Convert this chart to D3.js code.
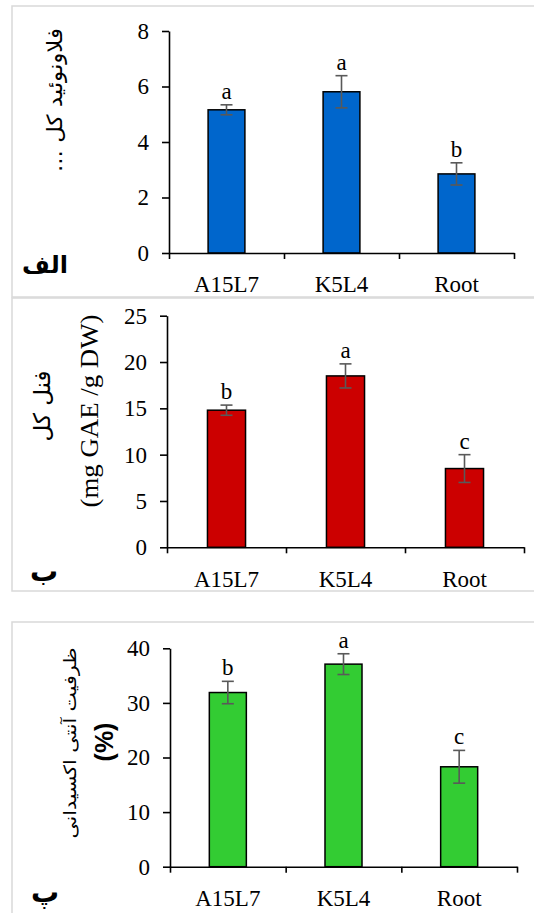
<!DOCTYPE html>
<html>
<head>
<meta charset="utf-8">
<script src="https://cdn.jsdelivr.net/npm/d3@7"></script>
<style>
  body { margin: 0; background: #fff; }
  svg { display: block; }
  .num text, text.num { font-family: 'Liberation Serif', 'Times New Roman', serif; font-size: 23px; }
</style>
</head>
<body>
<div id="chart"></div>
<script>
// data
var categories = ["A15L7", "K5L4", "Root"];

var flavMeans = [5.16, 5.81, 2.85];
var flavErrors = [0.18, 0.58, 0.40];
var flavLetters = ["a", "a", "b"];
var flavTicks = [0, 2, 4, 6, 8];

var phenolMeans = [14.8, 18.5, 8.5];
var phenolErrors = [0.55, 1.3, 1.5];
var phenolLetters = ["b", "a", "c"];
var phenolTicks = [0, 5, 10, 15, 20, 25];

var antiMeans = [31.9, 37.1, 18.3];
var antiErrors = [2.05, 1.9, 3.0];
var antiLetters = ["b", "a", "c"];
var antiTicks = [0, 10, 20, 30, 40];

var svgWidth = 534;
var svgHeight = 913;

var svg = d3.select("#chart")
    .append("svg")
    .attr("width", svgWidth)
    .attr("height", svgHeight);

var serif = "'Liberation Serif', 'Times New Roman', serif";
var arabic = "'DejaVu Sans', sans-serif";

function drawPanel(p) {
    // light gray frame around each panel
    svg.append("rect")
        .attr("x", 12)
        .attr("y", p.frameTop)
        .attr("width", 540)
        .attr("height", p.frameBottom - p.frameTop)
        .attr("fill", "none")
        .attr("stroke", "#d9d9d9")
        .attr("stroke-width", 1.5);

    var g = svg.append("g");

    var yScale = d3.scaleLinear()
        .domain([0, d3.max(p.ticks)])
        .range([p.bottom, p.top]);

    var xBand = d3.scaleBand()
        .domain(categories)
        .range([p.left, p.right])
        .paddingInner(0.68)
        .paddingOuter(0.34);

    var xEdges = d3.scaleLinear()
        .domain([0, categories.length])
        .range([p.left, p.right]);

    // bars
    g.selectAll("rect.bar")
        .data(p.means)
        .enter()
        .append("rect")
        .attr("class", "bar")
        .attr("x", (d, i) => xBand(categories[i]))
        .attr("y", d => yScale(d))
        .attr("width", xBand.bandwidth())
        .attr("height", d => yScale(0) - yScale(d))
        .attr("fill", p.color)
        .attr("stroke", "#000")
        .attr("stroke-width", 1.5);

    // error bars
    var cx = i => xBand(categories[i]) + xBand.bandwidth() / 2;
    var err = g.append("g")
        .attr("stroke", "#595959")
        .attr("stroke-width", 1.6);
    p.means.forEach(function(m, i) {
        var hi = yScale(m + p.errors[i]);
        var lo = yScale(m - p.errors[i]);
        err.append("line").attr("x1", cx(i)).attr("x2", cx(i)).attr("y1", hi).attr("y2", lo);
        err.append("line").attr("x1", cx(i) - 6).attr("x2", cx(i) + 6).attr("y1", hi).attr("y2", hi);
        err.append("line").attr("x1", cx(i) - 6).attr("x2", cx(i) + 6).attr("y1", lo).attr("y2", lo);
    });

    // significance letters
    g.selectAll("text.letter")
        .data(p.letters)
        .enter()
        .append("text")
        .attr("class", "letter num")
        .attr("x", (d, i) => cx(i))
        .attr("y", (d, i) => yScale(p.means[i] + p.errors[i]) - 6)
        .attr("text-anchor", "middle")
        .text(d => d);

    // y axis
    var leftAxis = d3.axisLeft(yScale)
        .tickValues(p.ticks)
        .tickSize(7)
        .tickSizeOuter(0)
        .tickPadding(13);
    g.append("g")
        .attr("class", "num")
        .attr("transform", `translate(${p.left}, 0)`)
        .call(leftAxis)
        .attr("font-family", null)
        .attr("font-size", null);

    // x axis with ticks between the categories
    var edgeAxis = d3.axisBottom(xEdges)
        .tickValues(d3.range(categories.length + 1))
        .tickFormat("")
        .tickSize(6)
        .tickSizeOuter(0);
    g.append("g")
        .attr("transform", `translate(0, ${p.bottom})`)
        .call(edgeAxis);

    var bottomAxis = d3.axisBottom(xBand).tickSize(0).tickPadding(23);
    var xAxis = g.append("g")
        .attr("class", "num")
        .attr("transform", `translate(0, ${p.bottom})`)
        .call(bottomAxis)
        .attr("font-family", null)
        .attr("font-size", null);
    xAxis.select(".domain").remove();

    g.selectAll(".tick text").attr("fill", "#000");
    g.selectAll(".domain, .tick line")
        .attr("stroke", "#000")
        .attr("stroke-width", 1.6);

    // rotated axis titles
    p.titles.forEach(function(t) {
        var txt = svg.append("text")
            .attr("transform", `translate(${t.x}, ${t.y}) rotate(-90)`)
            .attr("text-anchor", "middle")
            .attr("direction", t.rtl ? "rtl" : "ltr")
            .style("font-family", t.font)
            .style("font-size", t.size + "px")
            .style("font-weight", t.bold ? "bold" : "normal")
            .text(t.text);
        if (t.length) {
            txt.attr("textLength", t.length).attr("lengthAdjust", "spacingAndGlyphs");
        }
    });

    // panel letter
    svg.append("text")
        .attr("x", p.tagX)
        .attr("y", p.tagY)
        .attr("text-anchor", "middle")
        .attr("direction", "rtl")
        .style("font-family", arabic)
        .style("font-size", p.tagSize + "px")
        .style("font-weight", "bold")
        .text(p.tag);
}

drawPanel({
    frameTop: 6, frameBottom: 297,
    left: 169, right: 514, top: 31, bottom: 253,
    means: flavMeans, errors: flavErrors, letters: flavLetters, ticks: flavTicks,
    color: "#0066cc",
    titles: [
        { text: "فلاونوئید کل ...", x: 62, y: 100, size: 21, font: arabic, length: 144, rtl: true }
    ],
    tag: "الف", tagX: 45, tagY: 273, tagSize: 24
});

drawPanel({
    frameTop: 298, frameBottom: 591,
    left: 167, right: 524, top: 315.7, bottom: 547.3,
    means: phenolMeans, errors: phenolErrors, letters: phenolLetters, ticks: phenolTicks,
    color: "#cc0000",
    titles: [
        { text: "فنل کل", x: 50, y: 406, size: 23, font: arabic, length: 71, rtl: true },
        { text: "(mg GAE /g DW)", x: 98, y: 411, size: 25, font: serif, length: 193 }
    ],
    tag: "ب", tagX: 44, tagY: 581, tagSize: 28
});

drawPanel({
    frameTop: 622, frameBottom: 930,
    left: 170, right: 517, top: 648.3, bottom: 866.7,
    means: antiMeans, errors: antiErrors, letters: antiLetters, ticks: antiTicks,
    color: "#33cc33",
    titles: [
        { text: "ظرفیت آنتی اکسیدانی", x: 76, y: 743, size: 17, font: arabic, length: 191, rtl: true },
        { text: "(%)", x: 113, y: 742, size: 25, font: "'Liberation Sans', Arial, sans-serif", bold: true }
    ],
    tag: "پ", tagX: 45, tagY: 902, tagSize: 28
});
</script>
</body>
</html>
